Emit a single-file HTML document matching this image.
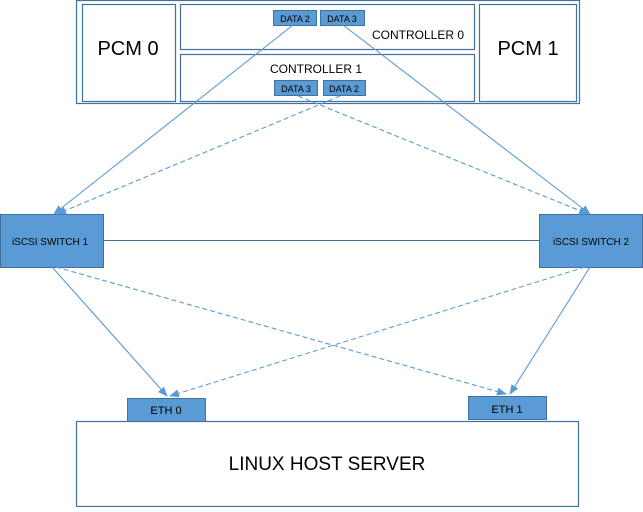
<!DOCTYPE html>
<html><head><meta charset="utf-8"><style>
html,body{margin:0;padding:0;background:#fff;}
body{width:643px;height:507px;overflow:hidden;}
text{font-family:"Liberation Sans",sans-serif;}
</style></head><body>
<svg width="643" height="507" viewBox="0 0 643 507" xmlns="http://www.w3.org/2000/svg">
<defs>
<marker id="a" markerWidth="10" markerHeight="8" refX="9" refY="4" orient="auto" markerUnits="userSpaceOnUse">
<path d="M0,0 L10,4 L0,8 z" fill="#5b9bd5"/></marker>
</defs>
<g fill="none" stroke="#41719c" stroke-width="1.2">
<rect x="76.5" y="0.5" width="503" height="103"/>
<rect x="82.5" y="4.5" width="93" height="97"/>
<rect x="180.5" y="4.5" width="294" height="45"/>
<rect x="180.5" y="54.5" width="294" height="47"/>
<rect x="479.5" y="4.5" width="97" height="97"/>
<rect x="76.5" y="421.5" width="502" height="85"/>
</g>
<g fill="#5b9bd5" stroke="#41719c" stroke-width="1">
<rect x="273.5" y="10.5" width="43" height="15"/>
<rect x="320.5" y="10.5" width="44" height="15"/>
<rect x="274.5" y="80.5" width="43" height="15"/>
<rect x="323.5" y="80.5" width="42" height="15"/>
<rect x="0.5" y="214.5" width="103" height="53"/>
<rect x="539.5" y="214.5" width="103" height="53"/>
<rect x="127.5" y="398.5" width="78" height="23"/>
<rect x="468.5" y="396.5" width="78" height="23"/>
</g>
<g stroke="#5b9bd5" stroke-width="1.1" fill="none">
<line x1="104" y1="240.5" x2="539" y2="240.5" stroke="#41719c"/>
<line x1="293" y1="25" x2="54" y2="214" marker-end="url(#a)"/>
<line x1="343" y1="25" x2="590" y2="214" marker-end="url(#a)"/>
<line x1="52" y1="267" x2="167" y2="396" marker-end="url(#a)"/>
<line x1="590" y1="267" x2="510" y2="394" marker-end="url(#a)"/>
<g stroke-dasharray="5,3">
<line x1="340" y1="96" x2="57" y2="214" marker-end="url(#a)"/>
<line x1="298" y1="96" x2="588" y2="214" marker-end="url(#a)"/>
<line x1="56" y1="267" x2="506" y2="394" marker-end="url(#a)"/>
<line x1="585" y1="267" x2="170" y2="396" marker-end="url(#a)"/>
</g>
</g>
<g fill="#000">
<text x="128" y="55" font-size="20" text-anchor="middle">PCM 0</text>
<text x="528" y="55" font-size="20" text-anchor="middle">PCM 1</text>
<text x="418" y="39" font-size="12" text-anchor="middle">CONTROLLER 0</text>
<text x="316" y="73" font-size="12" text-anchor="middle">CONTROLLER 1</text>
<text x="295" y="22" font-size="9" text-anchor="middle">DATA 2</text>
<text x="342" y="22" font-size="9" text-anchor="middle">DATA 3</text>
<text x="296" y="92" font-size="9" text-anchor="middle">DATA 3</text>
<text x="344" y="92" font-size="9" text-anchor="middle">DATA 2</text>
<text x="50" y="245" font-size="10" text-anchor="middle">iSCSI SWITCH 1</text>
<text x="591" y="245" font-size="10" text-anchor="middle">iSCSI SWITCH 2</text>
<text x="166" y="414" font-size="11" text-anchor="middle">ETH 0</text>
<text x="507" y="413" font-size="11" text-anchor="middle">ETH 1</text>
<text x="327" y="470" font-size="19" text-anchor="middle">LINUX HOST SERVER</text>
</g>
</svg>
</body></html>
